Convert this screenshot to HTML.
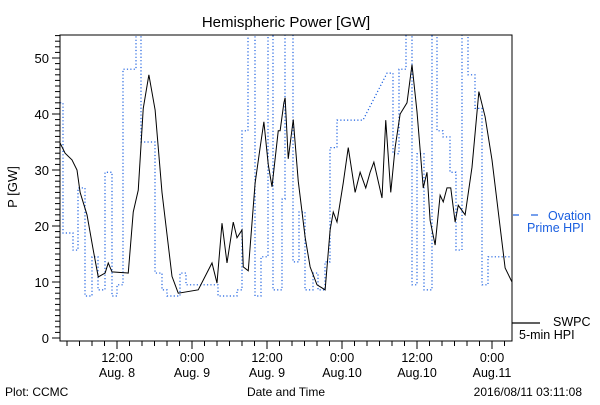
<!DOCTYPE html>
<html><head><meta charset="utf-8"><style>
body{margin:0;background:#fff}
svg text{font-family:"Liberation Sans",sans-serif}
</style></head><body>
<svg id="chart" width="600" height="400" viewBox="0 0 600 400" xmlns="http://www.w3.org/2000/svg">
<rect width="600" height="400" fill="#fff"/>
<text x="286" y="27" font-size="15" text-anchor="middle">Hemispheric Power [GW]</text>
<text x="0" y="0" font-size="13" text-anchor="middle" transform="translate(17,187) rotate(-90)">P [GW]</text>
<g id="axes"></g>
<g id="series"></g>
<rect x="60" y="35" width="452" height="306" fill="none" stroke="#000" stroke-width="1"/>
<line x1="513" y1="215" x2="519" y2="215" stroke="#1a5fe0" stroke-width="1.2"/>
<line x1="531" y1="215" x2="538" y2="215" stroke="#1a5fe0" stroke-width="1.2"/>
<text x="548" y="220" font-size="12.5" fill="#1a5fe0">Ovation</text>
<text x="527" y="232" font-size="12.5" fill="#1a5fe0">Prime HPI</text>
<line x1="512" y1="323" x2="540" y2="323" stroke="#000" stroke-width="1.2"/>
<text x="553" y="326" font-size="12.5">SWPC</text>
<text x="519" y="339" font-size="12.5">5-min HPI</text>
<text x="5" y="396" font-size="12">Plot: CCMC</text>
<text x="286" y="396" font-size="12" text-anchor="middle">Date and Time</text>
<text x="582" y="396" font-size="12" text-anchor="end">2016/08/11 03:11:08</text>
</svg>
<script>
// hours since Aug 8 00:00
const swpcTimes=[2.9,3.7,4.8,5.6,6.1,7.2,8.2,9.0,10.1,10.6,11.2,13.8,14.6,15.4,16.2,17.1,18.1,19.2,20.8,21.8,25.0,27.2,28.0,28.8,29.6,30.6,31.2,32.0,32.2,33.0,34.1,34.9,35.5,36.2,36.8,37.8,38.1,38.7,38.9,39.4,40.2,41.0,42.1,42.9,44.0,45.3,46.1,46.6,47.2,48.2,49.0,50.1,50.9,51.8,52.5,53.1,54.4,55.0,55.8,56.5,57.3,58.4,59.2,60.0,61.0,61.6,62.1,62.9,63.7,64.2,64.8,65.4,66.1,66.6,67.7,68.8,69.9,70.9,72.0,73.3,74.1,75.2];
const swpcValues=[34.8,33,31.8,30,26,22,15.7,10.9,11.6,13.4,11.8,11.6,22.5,26.4,41,47,40.7,26,11,8,8.6,13.4,9.8,20.5,13.4,20.7,17.9,19.3,12.7,12,27.7,34,38.6,31,27,37,37,42,42.9,32,39,28,18,12.7,9.5,8.6,19.3,22.5,20.7,27.7,34,26,29.6,26.8,29.6,31.4,25,38.9,26,34,40,42,48.8,40.4,26.8,29.6,21,16.6,25.5,24.3,26.8,26.8,20.7,23.7,22,30.5,44,39.5,31.8,19.8,12.5,10];
const hpiStart=[2.88,3.36,4.96,5.76,6.88,8.0,8.96,10.08,11.2,12,12.96,15.04,15.84,18.08,19.2,20.0,22.08,23.04,28.16,31.2,32.0,32.96,34.08,35.04,36.16,36.96,38.4,38.88,40.16,41.12,42.08,43.36,44.16,45.28,46.08,47.2,55.2,56.16,57.12,58.24,59.2,60,61.12,62.4,63.2,64.16,65.28,66.24,67.2,68.16,69.28,70.4,71.36];
const hpiEnd=[3.36,4.96,5.76,6.88,8.0,8.96,10.08,11.2,12,12.96,15.04,15.84,18.08,19.2,20.0,22.08,23.04,28.16,31.2,32.0,32.96,34.08,35.04,36.16,36.96,38.4,38.88,40.16,41.12,42.08,43.36,44.16,45.28,46.08,47.2,51.36,56.16,57.12,58.24,59.2,60,61.12,62.4,63.2,64.16,65.28,66.24,67.2,68.16,69.28,70.4,71.36,75.2];
const hpiValues=[42,18.75,15.7,26.8,7.5,14.5,8.6,29.6,7.5,9.5,48,60,35,11.6,8.6,7.5,11.6,9.5,7.5,8.6,37,60,7.5,14.5,60,8.6,24.8,60,13.6,22.5,8.6,11.6,8.6,13.6,34,38.9,47.3,32.9,48,60,9.5,32.9,8.6,60,37,35.9,29.6,15.7,60,47,41,9.5,14.5];
const yTicks=[0,10,20,30,40,50];
const xTickHours=[12,24,36,48,60,72];
const xTickTop=["12:00","0:00","12:00","0:00","12:00","0:00"];
const xTickBottom=["Aug. 8","Aug. 9","Aug. 9","Aug.10","Aug.10","Aug.11"];

const NS="http://www.w3.org/2000/svg";
const X0=60,X1=512,Y0=35,Y1=341;
function xs(h){return 117+(h-12)*6.25;}
function ys(v){return 338-5.6*v;}
function mk(tag,attrs,parent){const e=document.createElementNS(NS,tag);for(const k in attrs)e.setAttribute(k,attrs[k]);parent.appendChild(e);return e;}
const axes=document.getElementById('axes'),ser=document.getElementById('series');
const defs=mk('defs',{},ser);const cp=mk('clipPath',{id:'clip'},defs);mk('rect',{x:X0,y:Y0,width:X1-X0,height:Y1-Y0},cp);
for(let v=0;v<=54;v++){
  const major=v%10===0;
  const t=mk('line',{x1:X0-(major?8:5),x2:X0,y1:ys(v),y2:ys(v),stroke:'#000','stroke-width':1},axes);
  
  
}
yTicks.forEach(v=>{
  const t=mk('text',{x:X0-11,y:ys(v)+5,'font-size':13,'text-anchor':'end'},axes);
  t.textContent=v;
  
  
});
for(let h=4;h<=74;h+=2){
  const major=h%12===0;const x=xs(h);
  if(x<X0||x>X1)continue;
  const t=mk('line',{x1:x,x2:x,y1:Y1,y2:Y1+(major?8:5),stroke:'#000','stroke-width':1},axes);
  
  
}
xTickHours.forEach((h,i)=>{
  const a=mk('text',{x:xs(h),y:362,'font-size':12.5,'text-anchor':'middle'},axes);a.textContent=xTickTop[i];
  
  
  const b=mk('text',{x:xs(h),y:377,'font-size':12.5,'text-anchor':'middle'},axes);b.textContent=xTickBottom[i];
  
  
});
let pts=[];
hpiStart.forEach((s,i)=>{pts.push(xs(s)+','+ys(hpiValues[i]));pts.push(xs(hpiEnd[i])+','+ys(hpiValues[i]));});
const hp=mk('polyline',{points:pts.join(' '),fill:'none',stroke:'#1a5fe0','stroke-width':1.2,'stroke-dasharray':'1.2,2.2','clip-path':'url(#clip)'},ser);


const sp=mk('polyline',{points:swpcTimes.map((t,i)=>xs(t)+','+ys(swpcValues[i])).join(' '),fill:'none',stroke:'#000','stroke-width':1,'clip-path':'url(#clip)'},ser);


</script>
</body></html>
